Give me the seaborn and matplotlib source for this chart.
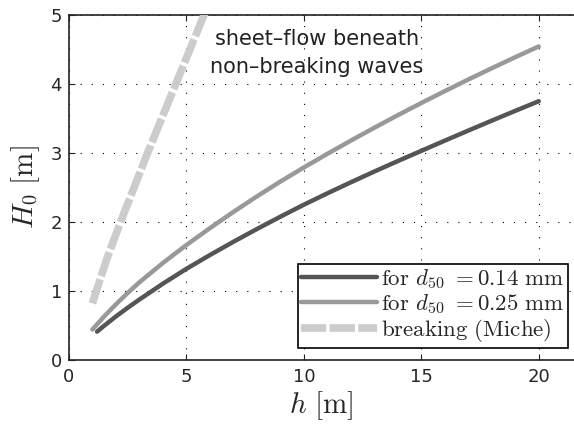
import numpy as np
import pandas as pd
import matplotlib
matplotlib.use("Agg")
import matplotlib.pyplot as plt
import seaborn as sns

# sheet-flow limit, d50 = 0.14 mm
h_fine = [1.2, 1.5, 2, 2.5, 3, 4, 5, 6, 7, 8, 9, 10, 11, 12, 13, 14, 15, 16, 17, 18, 19, 20]
H_fine = [0.41, 0.495, 0.63, 0.755, 0.875, 1.105, 1.32, 1.52, 1.712, 1.897, 2.076, 2.25,
          2.415, 2.575, 2.731, 2.883, 3.031, 3.179, 3.325, 3.469, 3.611, 3.751]

# sheet-flow limit, d50 = 0.25 mm
h_med = [1.0, 1.5, 2, 2.5, 3, 4, 5, 6, 7, 8, 9, 10, 11, 12, 13, 14, 15, 16, 17, 18, 19, 20]
H_med = [0.44, 0.63, 0.805, 0.97, 1.125, 1.405, 1.665, 1.91, 2.145, 2.37, 2.585, 2.79,
         2.987, 3.179, 3.366, 3.548, 3.725, 3.897, 4.065, 4.229, 4.389, 4.545]

# breaking limit (Miche)
h_brk = [1.0, 1.6, 2.2, 3.35, 4.55, 5.75, 6.0]
H_brk = [0.82, 1.45, 2.0, 3.0, 4.0, 5.0, 5.2]

labels = [r"$\mathrm{for}\ d_{50}\ \mathrm{=}0.14\ \mathrm{mm}$",
          r"$\mathrm{for}\ d_{50}\ \mathrm{=}0.25\ \mathrm{mm}$",
          r"$\mathrm{breaking\ (Miche)}$"]

sns.set_style("ticks")
plt.rcParams["mathtext.fontset"] = "cm"
plt.rcParams["font.family"] = ["DejaVu Sans"]

fig = plt.figure(figsize=(5.74, 4.3), dpi=100)
ax = fig.add_axes([0.12, 0.163, 0.88, 0.802])

sns.lineplot(x=h_fine, y=H_fine, ax=ax, color="#555555", lw=3.2, label=labels[0], zorder=4)
sns.lineplot(x=h_med, y=H_med, ax=ax, color="#999999", lw=3.2, label=labels[1], zorder=3)
sns.lineplot(x=h_brk, y=H_brk, ax=ax, color="#cccccc", lw=5.5, label=labels[2], zorder=3)
ax.lines[2].set_dashes([3.3, 0.45])

ax.set_xlim(0, 21.5)
ax.set_ylim(0, 5)
ax.set_xticks([0, 5, 10, 15, 20])
ax.set_yticks([0, 1, 2, 3, 4, 5])
ax.grid(True, color="black", linestyle=(0, (1, 9)), lw=0.8)
ax.tick_params(direction="in", labelsize=13, top=True, length=4, color="#222222", pad=6)
ax.tick_params(axis="y", pad=5)
for s in ["left", "bottom", "top"]:
    ax.spines[s].set_linewidth(1.2)
    ax.spines[s].set_color("#222222")
ax.spines["right"].set_visible(False)

ax.set_xlabel(r"$h\ [\mathrm{m}]$", fontsize=21, labelpad=2)
ax.set_ylabel(r"$H_0\ [\mathrm{m}]$", fontsize=21, labelpad=6)

ax.text(10.56, 4.45, "sheet\u2013flow beneath\nnon\u2013breaking waves",
        ha="center", va="center", fontsize=15, color="#222222", linespacing=1.45)

leg = ax.legend(loc="lower right", bbox_to_anchor=(0.988, 0.035), borderaxespad=0,
                fontsize=16.5, frameon=True, fancybox=False,
                edgecolor="black", handlelength=3.3, handletextpad=0.2,
                borderpad=0.15, labelspacing=0.05)
leg.get_frame().set_linewidth(1.2)
leg.get_frame().set_alpha(1)

fig.savefig("out.png", dpi=100)
